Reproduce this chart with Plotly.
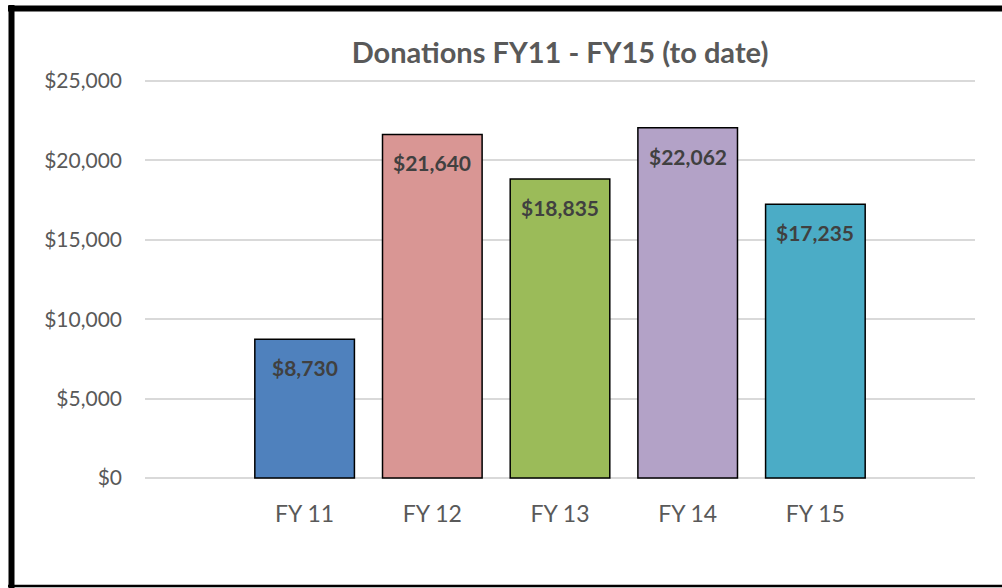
import plotly.graph_objects as go

categories = ["FY 11", "FY 12", "FY 13", "FY 14", "FY 15"]
donations = [8730, 21640, 18835, 22062, 17235]
bar_colors = ["#4F81BD", "#D99694", "#9BBB59", "#B3A2C7", "#4BACC6"]
tick_vals = [0, 5000, 10000, 15000, 20000, 25000]
tick_text = ["$0", "$5,000", "$10,000", "$15,000", "$20,000", "$25,000"]
title_text = "Donations FY11 - FY15 (to date)"

FONT = "Lato, Open Sans, sans-serif"

fig = go.Figure()
fig.add_trace(go.Bar(
    x=list(range(len(categories))),
    y=donations,
    marker=dict(color=bar_colors, line=dict(color="#000000", width=1.5)),
    width=0.78,
    hoverinfo="skip",
))

annotations = []
for i, v in enumerate(donations):
    annotations.append(dict(
        x=i, y=v, xref="x", yref="y",
        text=f"<b>${v:,}</b>", showarrow=False,
        yanchor="top", yshift=-14,
        font=dict(family=FONT, size=21, color="#404040"),
    ))

# plot area in pixels (slightly padded so edge gridlines are drawn)
W, H = 1002, 588
L, R, T, B = 145, 975, 79, 480
pw, ph = R - L, B - T
def px_x(x):
    return (x - L) / pw
def px_y(y):
    return (B - y) / ph

shapes = [
    dict(type="line", xref="paper", yref="paper",
         x0=px_x(11.5), x1=px_x(11.5), y0=px_y(5), y1=px_y(588),
         line=dict(color="#000000", width=6)),
    dict(type="line", xref="paper", yref="paper",
         x0=px_x(8), x1=px_x(1010), y0=px_y(8.5), y1=px_y(8.5),
         line=dict(color="#000000", width=6)),
    dict(type="line", xref="paper", yref="paper",
         x0=px_x(8), x1=px_x(1010), y0=px_y(586), y1=px_y(586),
         line=dict(color="#000000", width=2.5)),
]

fig.update_layout(
    width=W, height=H,
    margin=dict(l=L, r=W - R, t=T, b=H - B, pad=0),
    paper_bgcolor="white", plot_bgcolor="white",
    showlegend=False,
    title=dict(text=f"<b>{title_text}</b>", x=0.5, xref="paper", xanchor="center",
               y=1 - 53 / H, yanchor="middle",
               font=dict(family=FONT, size=29, color="#595959")),
    xaxis=dict(
        range=[-1.25, 5.25],
        tickmode="array", tickvals=list(range(len(categories))), ticktext=categories,
        showgrid=False, zeroline=False, showline=False, ticks="",
        ticklabelstandoff=18,
        tickfont=dict(family=FONT, size=23, color="#595959"),
    ),
    yaxis=dict(
        range=[-130, 25130],
        tickmode="array", tickvals=tick_vals, ticktext=tick_text,
        showgrid=True, gridcolor="#D9D9D9", gridwidth=1.5,
        zeroline=False, showline=False, ticks="",
        ticklabelstandoff=22,
        tickfont=dict(family=FONT, size=21, color="#595959"),
    ),
    annotations=annotations,
    shapes=shapes,
)

fig.write_html("out.html", config={"displayModeBar": False},
               post_script="document.body.style.margin='0';document.body.style.overflow='hidden';")
